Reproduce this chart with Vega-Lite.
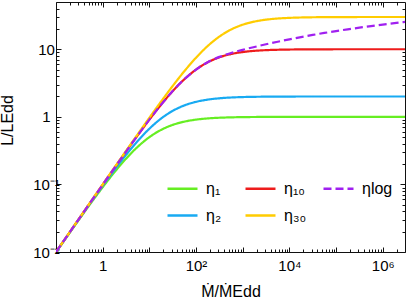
{
  "$schema": "https://vega.github.io/schema/vega-lite/v6.json",
  "autosize": "none",
  "padding": {"left": 56, "top": 2, "right": 4, "bottom": 50},
  "width": 349,
  "height": 250,
  "config": {
    "view": {"stroke": "#111", "strokeWidth": 1},
    "font": "Liberation Sans",
    "axis": {"labelColor": "#000", "titleColor": "#000", "tickColor": "#111", "titleFontWeight": "normal", "labelFont": "Liberation Sans", "titleFont": "Liberation Sans"}
  },
  "data": {
    "values": [
      {"m": 0.1, "e1": 0.0099, "e2": 0.00995, "e10": 0.00999, "e30": 0.009997, "elog": 0.00999},
      {"m": 0.17783, "e1": 0.017472, "e2": 0.017626, "e10": 0.017751, "e30": 0.017772, "elog": 0.017751},
      {"m": 0.31623, "e1": 0.030654, "e2": 0.031131, "e10": 0.031523, "e30": 0.03159, "elog": 0.031523},
      {"m": 0.56234, "e1": 0.05324, "e2": 0.054696, "e10": 0.05592, "e30": 0.056129, "elog": 0.05592},
      {"m": 1, "e1": 0.090909, "e2": 0.095238, "e10": 0.09901, "e30": 0.099668, "elog": 0.09901},
      {"m": 1.7783, "e1": 0.15098, "e2": 0.16331, "e10": 0.17472, "e30": 0.17678, "elog": 0.17472},
      {"m": 3.1623, "e1": 0.24025, "e2": 0.27306, "e10": 0.30654, "e30": 0.31293, "elog": 0.30654},
      {"m": 5.6234, "e1": 0.35993, "e2": 0.43893, "e10": 0.5324, "e30": 0.55199, "elog": 0.5324},
      {"m": 10, "e1": 0.5, "e2": 0.66667, "e10": 0.90909, "e30": 0.96774, "elog": 0.90909},
      {"m": 17.783, "e1": 0.64007, "e2": 0.94132, "e10": 1.50979, "e30": 1.6788, "elog": 1.5098},
      {"m": 31.623, "e1": 0.75975, "e2": 1.22515, "e10": 2.40254, "e30": 2.86074, "elog": 2.4026},
      {"m": 56.234, "e1": 0.84902, "e2": 1.4753, "e10": 3.59929, "e30": 4.7357, "elog": 3.5994},
      {"m": 100, "e1": 0.90909, "e2": 1.66667, "e10": 5, "e30": 7.5, "elog": 5.0045},
      {"m": 177.83, "e1": 0.94676, "e2": 1.79781, "e10": 6.40068, "e30": 11.16486, "elog": 6.4279},
      {"m": 316.23, "e1": 0.96935, "e2": 1.88104, "e10": 7.59748, "e30": 15.3951, "elog": 7.7062},
      {"m": 562.34, "e1": 0.98253, "e2": 1.93131, "e10": 8.4902, "e30": 19.56328, "elog": 8.8066},
      {"m": 1000, "e1": 0.9901, "e2": 1.96078, "e10": 9.09091, "e30": 23.07692, "elog": 9.8078},
      {"m": 1778.3, "e1": 0.99441, "e2": 1.97776, "e10": 9.4676, "e30": 25.66949, "elog": 10.8027},
      {"m": 3162.3, "e1": 0.99685, "e2": 1.98743, "e10": 9.69347, "e30": 27.40057, "elog": 11.8375},
      {"m": 5623.4, "e1": 0.99822, "e2": 1.99291, "e10": 9.82528, "e30": 28.4806, "elog": 12.9152},
      {"m": 10000, "e1": 0.999, "e2": 1.99601, "e10": 9.90099, "e30": 29.12621, "elog": 14.0232},
      {"m": 17783, "e1": 0.99944, "e2": 1.99775, "e10": 9.94408, "e30": 29.50229, "elog": 15.1491},
      {"m": 31623, "e1": 0.99968, "e2": 1.99874, "e10": 9.96847, "e30": 29.7187, "elog": 16.284},
      {"m": 56234, "e1": 0.99982, "e2": 1.99929, "e10": 9.98225, "e30": 29.8408, "elog": 17.4241},
      {"m": 100000, "e1": 0.9999, "e2": 1.9996, "e10": 9.99001, "e30": 29.91027, "elog": 18.567},
      {"m": 177828, "e1": 0.99994, "e2": 1.99978, "e10": 9.99438, "e30": 29.94948, "elog": 19.7114},
      {"m": 316228, "e1": 0.99997, "e2": 1.99987, "e10": 9.99684, "e30": 29.97157, "elog": 20.8569},
      {"m": 562341, "e1": 0.99998, "e2": 1.99993, "e10": 9.99822, "e30": 29.984, "elog": 22.0035},
      {"m": 1000000, "e1": 0.99999, "e2": 1.99996, "e10": 9.999, "e30": 29.991, "elog": 23.1507},
      {"m": 1778279, "e1": 0.999994, "e2": 1.99998, "e10": 9.99944, "e30": 29.99494, "elog": 24.2987},
      {"m": 3000000, "e1": 0.999997, "e2": 1.99999, "e10": 9.99967, "e30": 29.997, "elog": 25.3421}
    ]
  },
  "transform": [
    {"fold": ["e1", "e2", "e10", "e30", "elog"], "as": ["series", "L"]}
  ],
  "layer": [
    {
      "mark": {"type": "line", "strokeWidth": 2.2, "clip": true, "interpolate": "monotone"},
      "encoding": {
        "x": {
          "field": "m", "type": "quantitative",
          "scale": {"type": "log", "domain": [0.1, 3000000], "nice": false},
          "axis": {
            "orient": "bottom", "domain": false, "grid": false,
            "values": [0.1,0.2,0.3,0.4,0.5,0.6,0.7,0.8,0.9,1,2,3,4,5,6,7,8,9,10,20,30,40,50,60,70,80,90,100,200,300,400,500,600,700,800,900,1000,2000,3000,4000,5000,6000,7000,8000,9000,10000,20000,30000,40000,50000,60000,70000,80000,90000,100000,200000,300000,400000,500000,600000,700000,800000,900000,1000000,2000000],
            "labelExpr": "datum.value == 1 ? '1' : datum.value == 100 ? '10²' : datum.value == 10000 ? '10⁴' : datum.value == 1000000 ? '10⁶' : ''",
            "tickSize": {"condition": {"test": "abs(log(datum.value)/LN10 - round(log(datum.value)/LN10)) < 0.000001", "value": -5}, "value": -3},
            "labelOverlap": false, "labelBound": false, "labelFlush": false,
            "labelFontSize": 15, "labelPadding": 11,
            "title": "Ṁ/ṀEdd", "titleFontSize": 16, "titlePadding": 8
          }
        },
        "y": {
          "field": "L", "type": "quantitative",
          "scale": {"type": "log", "domain": [0.01, 50], "nice": false},
          "axis": {
            "orient": "left", "domain": false, "grid": false,
            "values": [0.01,0.02,0.03,0.04,0.05,0.06,0.07,0.08,0.09,0.1,0.2,0.3,0.4,0.5,0.6,0.7,0.8,0.9,1,2,3,4,5,6,7,8,9,10,20,30,40],
            "labelExpr": "datum.value == 0.01 ? '10⁻²' : datum.value == 0.1 ? '10⁻¹' : datum.value == 1 ? '1' : datum.value == 10 ? '10' : ''",
            "tickSize": {"condition": {"test": "abs(log(datum.value)/LN10 - round(log(datum.value)/LN10)) < 0.000001", "value": -5}, "value": -3},
            "labelOverlap": false, "labelBound": false, "labelFlush": false,
            "labelFontSize": 15, "labelPadding": 15, "labelAlign": "center",
            "title": "L/LEdd", "titleFontSize": 16, "titleX": -41, "titleY": 118
          }
        },
        "color": {
          "field": "series", "type": "nominal",
          "scale": {"domain": ["e1", "e2", "e10", "e30", "elog"], "range": ["#66ee22", "#18aaf2", "#ee1c1c", "#ffcc00", "#a020f0"]},
          "legend": {
            "orient": "none", "legendX": 110, "legendY": 170, "columns": 3, "gridAlign": "all",
            "title": null, "symbolType": "stroke", "symbolSize": 900, "symbolStrokeWidth": 2.5,
            "labelFontSize": 16, "labelOffset": 7, "columnPadding": 3, "rowPadding": 2,
            "labelExpr": "datum.label == 'e1' ? 'η₁' : datum.label == 'e2' ? 'η₂' : datum.label == 'e10' ? 'η₁₀' : datum.label == 'e30' ? 'η₃₀' : 'ηlog'"
          }
        },
        "strokeDash": {
          "field": "series", "type": "nominal",
          "scale": {"domain": ["e1", "e2", "e10", "e30", "elog"], "range": [[1, 0], [1, 0], [1, 0], [1, 0], [8, 4]]},
          "legend": {
            "orient": "none", "legendX": 110, "legendY": 170, "columns": 3, "gridAlign": "all",
            "title": null, "symbolType": "stroke", "symbolSize": 900, "symbolStrokeWidth": 2.5,
            "labelFontSize": 16, "labelOffset": 7, "columnPadding": 3, "rowPadding": 2,
            "labelExpr": "datum.label == 'e1' ? 'η₁' : datum.label == 'e2' ? 'η₂' : datum.label == 'e10' ? 'η₁₀' : datum.label == 'e30' ? 'η₃₀' : 'ηlog'"
          }
        }
      }
    },
    {
      "mark": {"type": "line", "opacity": 0},
      "encoding": {
        "x": {
          "field": "m", "type": "quantitative",
          "scale": {"type": "log", "domain": [0.1, 3000000], "nice": false},
          "axis": {
            "orient": "top", "domain": false, "grid": false, "labels": false, "title": null,
            "values": [0.1,0.2,0.3,0.4,0.5,0.6,0.7,0.8,0.9,1,2,3,4,5,6,7,8,9,10,20,30,40,50,60,70,80,90,100,200,300,400,500,600,700,800,900,1000,2000,3000,4000,5000,6000,7000,8000,9000,10000,20000,30000,40000,50000,60000,70000,80000,90000,100000,200000,300000,400000,500000,600000,700000,800000,900000,1000000,2000000],
            "tickSize": {"condition": {"test": "abs(log(datum.value)/LN10 - round(log(datum.value)/LN10)) < 0.000001", "value": -5}, "value": -3}
          }
        },
        "y": {
          "field": "L", "type": "quantitative",
          "scale": {"type": "log", "domain": [0.01, 50], "nice": false},
          "axis": {
            "orient": "right", "domain": false, "grid": false, "labels": false, "title": null,
            "values": [0.01,0.02,0.03,0.04,0.05,0.06,0.07,0.08,0.09,0.1,0.2,0.3,0.4,0.5,0.6,0.7,0.8,0.9,1,2,3,4,5,6,7,8,9,10,20,30,40],
            "tickSize": {"condition": {"test": "abs(log(datum.value)/LN10 - round(log(datum.value)/LN10)) < 0.000001", "value": -5}, "value": -3}
          }
        }
      }
    }
  ],
  "resolve": {"axis": {"x": "independent", "y": "independent"}}
}
